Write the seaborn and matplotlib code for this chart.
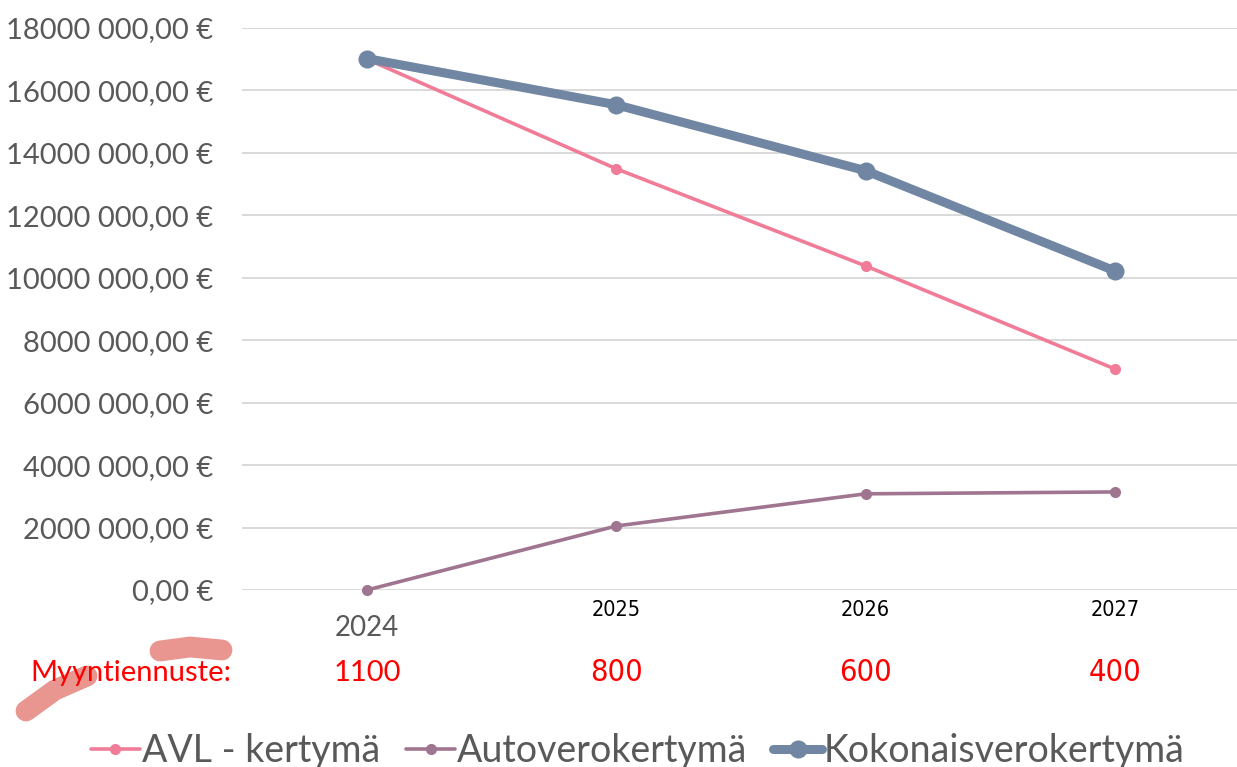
import seaborn as sns
import matplotlib.pyplot as plt
import pandas as pd
from matplotlib.lines import Line2D
from matplotlib.ticker import FuncFormatter

years = ["2024", "2025", "2026", "2027"]
avl = [17_000_000, 13_490_000, 10_380_000, 7_080_000]
autovero = [0, 2_050_000, 3_080_000, 3_140_000]
kokonais = [17_020_000, 15_540_000, 13_430_000, 10_220_000]
myyntiennuste = ["1100", "800", "600", "400"]

series_names = ["AVL - kertymä", "Autoverokertymä", "Kokonaisverokertymä"]
colors = ["#F07C98", "#A0758F", "#7086A3"]
widths = [2.6, 2.6, 6.5]
msizes = [8, 8, 13]

df = pd.DataFrame({"vuosi": years, series_names[0]: avl,
                   series_names[1]: autovero, series_names[2]: kokonais})
long = df.melt(id_vars="vuosi", var_name="sarja", value_name="euro")

sns.set_style("white")
plt.rcParams["font.family"] = ["Lato", "DejaVu Sans"]

fig = plt.figure(figsize=(12.37, 7.67), dpi=100)
ax = fig.add_axes([0.196, 0.2308, 0.806, 0.7327])

for name, c, lw, ms in zip(series_names, colors, widths, msizes):
    sub = long[long["sarja"] == name]
    sns.lineplot(data=sub, x="vuosi", y="euro", ax=ax, color=c, lw=lw,
                 marker="o", markersize=ms, markeredgewidth=0, label=name,
                 clip_on=False, zorder=3)

ax.set_xlim(-0.5, 3.5)
ax.set_ylim(0, 18_000_000)
ax.set_yticks(range(0, 18_000_001, 2_000_000))


def euro_fmt(v, pos):
    v = int(round(v))
    if v == 0:
        return "0,00 €"
    return f"{v // 1000} {v % 1000:03d},00 €"


ax.yaxis.set_major_formatter(FuncFormatter(euro_fmt))
ax.tick_params(axis="y", length=0, pad=21, labelsize=21, labelcolor="#595959")
ax.set_xticks([])
ax.grid(axis="y", color="#D9D9D9", lw=1.4)
ax.set_axisbelow(True)
for s in ax.spines.values():
    s.set_visible(False)
ax.set_xlabel("")
ax.set_ylabel("")

# x-axis year labels (first one styled differently, as in the original)
xt = ax.get_xaxis_transform()
narrow = dict(family="DejaVu Sans", fontstretch="condensed")
for i, y in enumerate(years):
    if i == 0:
        ax.text(i, -0.0676, y, transform=xt, ha="center", va="center",
                fontsize=20, color="#595959")
    else:
        ax.text(i, -0.0356, y, transform=xt, ha="center", va="center",
                fontsize=15.5, color="black", **narrow)

# sales forecast row
fig.text(231 / 1237, 1 - 673 / 767, "Myyntiennuste:", ha="right", va="center",
         fontsize=21, color="red")
for i, n in enumerate(myyntiennuste):
    if i == 0:
        ax.text(i, -0.1477, n, transform=xt, ha="center", va="center",
                fontsize=21, color="red")
    else:
        ax.text(i, -0.1477, n, transform=xt, ha="center", va="center",
                fontsize=22, color="red", **narrow)

# hand-drawn highlight strokes
W, H = 1237, 767
for xs, ys in [([160, 190, 222], [651, 647, 650]),
               ([26, 55, 87], [711, 690, 676])]:
    fig.add_artist(Line2D([x / W for x in xs], [1 - y / H for y in ys],
                          transform=fig.transFigure, color="#E8908A", lw=15,
                          solid_capstyle="round", alpha=0.95))

ax.legend(loc="center", bbox_to_anchor=(638 / W, 1 - 751 / H),
          bbox_transform=fig.transFigure, ncol=3, frameon=False,
          fontsize=27, labelcolor="#595959", handlelength=1.3,
          handletextpad=0.05, columnspacing=0.7)

fig.savefig("out.png", dpi=100)
plt.close(fig)
